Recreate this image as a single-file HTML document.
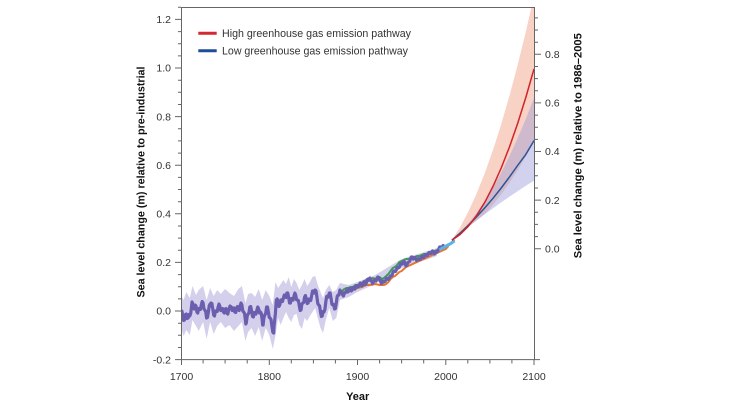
<!DOCTYPE html>
<html><head><meta charset="utf-8"><style>
html,body{margin:0;padding:0;background:#fff;}
svg{display:block;}
text{font-family:"Liberation Sans",sans-serif;}
</style></head><body>
<svg width="744" height="414" viewBox="0 0 744 414" xmlns="http://www.w3.org/2000/svg">
<rect x="0" y="0" width="744" height="414" fill="#fff"/>
<defs><clipPath id="pc"><rect x="181" y="7" width="353" height="353"/></clipPath></defs>

<g clip-path="url(#pc)">
<!-- historical uncertainty band -->
<polygon fill="#d4d0ec" points="181.0,295 183.6,300 186.3,292 189.8,298 192.5,286 196.0,295 198.7,290 203.1,286 206.6,300 210.1,288 213.7,296 217.2,290 220.7,294 225.1,289 229.5,293 234.0,296 238.4,289 241.9,286 245.4,303 248.1,294 251.6,293 255.1,297 258.7,289 262.2,300 265.7,290 269.3,296 272.8,305 275.4,282 278.1,288 280.7,284 283.4,280 286.0,284 288.7,277 291.3,287 294.0,279 296.6,283 299.3,290 301.9,285 304.6,279 307.2,286 309.9,282 312.5,277 315.2,276 317.8,285 320.5,292 323.1,298 325.8,290 329.3,285 332.8,292 336.3,290 339.9,283 348.7,285 357.5,282 375.2,275 401.6,259 437.0,248 437.0,256 401.6,268 375.2,284 357.5,292 348.7,297 339.9,300 336.3,318 332.8,321 329.3,308 325.8,320 323.1,333 320.5,328 317.8,318 315.2,308 312.5,312 309.9,316 307.2,321 304.6,318 301.9,329 299.3,325 296.6,314 294.0,315 291.3,322 288.7,318 286.0,312 283.4,318 280.7,325 278.1,318 275.4,336 272.8,349 269.3,335 265.7,328 262.2,341 258.7,327 255.1,336 251.6,328 248.1,332 245.4,341 241.9,322 238.4,326 234.0,331 229.5,325 225.1,328 220.7,322 217.2,326 213.7,334 210.1,322 206.6,339 203.1,322 198.7,331 196.0,326 192.5,320 189.8,335 186.3,330 183.6,336 181.0,328"/>

<!-- projection bands -->
<polygon fill="#f8d2c4" points="451.9,240.2 460.1,227.2 468.3,211.8 476.5,193.7 484.8,173.1 493.0,150.0 501.2,124.3 509.4,96.0 517.6,65.2 525.8,31.9 534.0,-4.0 534.0,141.8 525.8,156.6 517.6,170.2 509.4,182.8 501.2,194.3 493.0,204.7 484.8,214.0 476.5,220.5 468.3,226.9 460.1,233.5"/>
<polygon fill="rgba(155,155,217,0.45)" points="451.9,240.2 460.1,232.6 468.3,223.6 476.5,213.1 484.8,201.1 493.0,187.6 501.2,172.7 509.4,156.2 517.6,138.3 525.8,118.9 534.0,98.0 534.0,180.7 525.8,185.8 517.6,191.2 509.4,196.7 501.2,202.4 493.0,208.3 484.8,214.3 476.5,220.5 468.3,226.9 460.1,233.5"/>

<!-- green -->
<polyline fill="none" stroke="#3f9a5a" stroke-width="2" stroke-linejoin="round" points="339.9,290 342.1,291 344.3,289 346.5,288 348.7,288 350.9,287 353.1,287 355.3,285 357.5,285 359.7,284 361.9,283 364.1,281 366.3,280 368.5,281 370.8,279 373.0,278 375.2,279 377.4,277 379.6,277 381.8,279 384.0,278 386.2,276 388.4,274 390.6,271 392.8,268 395.0,267 397.2,265 399.4,262 401.6,261 403.8,260 406.0,259 408.3,259 410.5,258 412.7,257 414.9,257 417.1,256 419.3,256 421.5,255 423.7,254 425.9,254 428.1,253 430.3,252 432.5,252 434.7,251 437.0,250 439.6,250"/>
<!-- orange -->
<polyline fill="none" stroke="#e8742c" stroke-width="2" stroke-linejoin="round" points="339.9,292 344.3,292 348.7,291 353.1,290 357.5,288 361.9,287 366.3,285 370.8,285 375.2,284 379.6,285 384.0,285 386.2,284 388.4,282 390.6,279 392.8,277 395.0,276 397.2,274 399.4,272 401.6,271 403.8,269 406.0,267 408.3,266 410.5,265 412.7,264 414.9,263 417.1,262 419.3,261 421.5,260 423.7,259 425.9,258 428.1,257 430.3,256 432.5,255 434.7,254 437.0,253 439.2,252 441.4,251 443.6,250 445.8,249 447.6,247 449.3,244 452.0,242 454.6,240"/>
<!-- purple reconstruction -->
<polyline fill="none" stroke="#6a5fae" stroke-width="3.2" stroke-linejoin="round" points="181.0,311 181.9,311 182.8,316 183.65,320.5 184.5,320 185.4,314.5 186.3,314 187.2,318.5 188.1,318 189.0,314.5 189.8,316 190.7,313.5 191.6,306 192.05,302 192.5,303 193.35,308.5 194.2,309 195.1,305 196.0,306 196.9,312 197.8,313 198.65,308.5 199.5,309 200.4,309.5 201.3,305 202.2,301.5 203.1,303 203.95,309 204.8,310 205.7,311.5 206.6,318 207.5,317.5 208.4,312 209.25,305.5 210.1,304 210.55,306 211.0,303 211.9,303.5 212.8,309 213.65,315 214.5,316 215.4,311 216.3,311 217.2,311.5 218.1,307 218.95,304 219.8,306 220.7,310.5 221.6,310 222.5,308.5 223.4,312 224.25,313 225.1,309 226.0,308.5 226.9,313 227.8,314 228.7,310 230.0,306 231.3,307 232.2,310.5 233.1,309 233.95,308 234.8,312 235.7,312.5 236.6,308 237.5,306.5 238.4,310 239.25,310.5 240.1,306 241.0,303 241.9,305 242.8,311 243.7,312 244.55,313.5 245.4,320 245.85,324 246.3,323 247.2,316 248.1,314 248.95,313 249.8,307 250.7,306.5 251.6,311 252.5,316.5 253.4,317 254.25,312.5 255.1,313 256.0,314 256.9,310 257.8,307 258.7,309 259.55,313 260.4,312 261.3,313.5 262.2,320 262.65,325 263.1,325 263.95,317.5 264.8,315 265.7,313.5 266.6,307 267.5,307 268.4,312 269.25,317.5 270.1,318 271.0,319.5 271.9,326 272.8,332 273.7,333 274.1,325 274.5,322 275.4,313.5 276.3,300 277.2,299 278.1,303 278.95,306.5 279.8,305 280.7,300 281.6,300 282.5,301.5 283.4,298 284.25,295 285.1,297 286.0,297.5 286.9,293 287.8,293 288.7,298 289.55,303 290.4,303 291.3,298.5 292.2,299 293.1,300 294.0,296 294.85,293 295.7,295 296.6,300 297.5,300 298.4,300.5 299.3,306 300.15,310.5 301.0,310 301.9,304 302.8,303 303.7,302.5 304.6,297 305.45,295.5 306.3,299 307.2,303.5 308.1,303 309.0,299 309.9,300 310.75,300.5 311.6,296 312.5,291 313.4,291 314.3,293 315.2,290 316.05,291 316.9,297 317.8,303.5 318.7,305 319.6,306 320.5,312 321.35,316.5 322.2,316 323.1,311.5 324.0,312 324.9,309.5 325.8,302 326.65,296.5 327.5,296 328.4,297 329.3,293 330.15,293 331.0,298 331.9,304 332.8,305 333.7,304.5 334.6,309 335.45,308.5 336.3,303 337.2,296.5 338.1,295 339.0,295 339.9,290 340.8,292.5 341.6,292 342.5,294.5 343.4,296 344.3,293 345.2,293 346.0,291.5 346.9,290 347.8,292 348.7,291 349.6,288 350.4,289 351.3,291 352.2,290 353.1,287.5 354.0,288 354.9,289 355.7,287 356.6,285.5 357.5,287 358.4,286.5 359.3,285 360.2,283 361.0,284 361.9,286 362.8,285 363.7,282 364.6,282 365.5,284.5 366.3,283 367.2,279.5 368.1,279 369.0,280 369.9,278 370.8,280.5 371.6,281 372.5,283.5 373.4,282 374.3,280 375.2,280 376.0,281 376.9,279 377.8,277 378.7,278 379.6,280 380.5,281 381.3,283.5 382.2,283 383.1,281 384.0,282 384.9,281.5 385.8,280 386.6,278 387.5,279 388.4,279.5 389.3,278 390.2,276 391.1,276 392.0,275.5 392.8,273 393.7,271 394.6,271 395.5,271.5 396.3,270 397.2,267.5 398.1,268 399.0,267.5 399.9,266 400.8,263.5 401.6,264 402.5,264 403.4,262 404.3,261.5 405.2,264 406.0,266 406.9,265 407.8,262.5 408.7,262 409.6,261.5 410.5,259 411.3,257 412.2,257 413.1,259 414.0,258 414.9,257.5 415.8,259 416.6,260.5 417.5,260 418.4,258.5 419.3,259 420.2,259.5 421.1,258 422.0,256.5 422.8,257 423.7,257.5 424.6,256 425.5,254.5 426.4,255 427.2,255.5 428.1,254 429.0,252.5 429.9,253 430.8,253.5 431.7,252 432.5,251 433.4,252 434.3,254 435.2,253 436.1,251.5 437.0,252 437.8,251 438.7,249 439.6,247 440.5,247 441.4,248 442.3,247 443.1,245.5 444.0,246"/>
<!-- cyan satellite -->
<polyline fill="none" stroke="#5ab4e5" stroke-width="3" stroke-linejoin="round" points="439.6,250 442.3,248 444.9,247 447.6,245 450.2,244 452.8,242 454.6,241"/>

<!-- projection medians -->
<polyline fill="none" stroke="#2a5598" stroke-width="1.5" stroke-linejoin="round" points="451.9,240.2 460.1,233.1 468.3,225.3 476.5,216.9 484.8,207.9 493.0,198.3 501.2,188.0 509.4,177.1 517.6,165.5 525.8,154.4 534.0,140.6"/>
<polyline fill="none" stroke="#d2232a" stroke-width="1.5" stroke-linejoin="round" points="451.9,240.2 460.1,234.5 468.3,226.3 476.5,215.6 484.8,202.3 493.0,186.4 501.2,168.0 509.4,147.1 517.6,123.6 525.8,97.5 534.0,68.9"/>
</g>

<!-- axes -->
<g stroke="#666" stroke-width="1" fill="none">
<path d="M181.5,7.5 V360 M181,7.5 H534.5 M534.5,7 V360 M181,359.6 H540"/>
<path d="M175,359.6H181 M178,347.5H181 M178,335.3H181 M178,323.2H181 M175,311H181 M178,298.9H181 M178,286.7H181 M178,274.6H181 M175,262.4H181 M178,250.3H181 M178,238.1H181 M178,226H181 M175,213.8H181 M178,201.7H181 M178,189.5H181 M178,177.4H181 M175,165.2H181 M178,153.1H181 M178,140.9H181 M178,128.8H181 M175,116.6H181 M178,104.5H181 M178,92.3H181 M178,80.2H181 M175,68H181 M178,55.9H181 M178,43.7H181 M178,31.6H181 M175,19.4H181 M178,7.3H181"/>
<path d="M534,248.7H541 M534,236.6H538 M534,224.4H538 M534,212.3H538 M534,200.1H541 M534,188H538 M534,175.8H538 M534,163.7H538 M534,151.5H541 M534,139.4H538 M534,127.2H538 M534,115.1H538 M534,102.9H541 M534,90.8H538 M534,78.6H538 M534,66.5H538 M534,54.3H541 M534,42.2H538 M534,30H538 M534,17.9H538"/>
<path d="M181.5,360V365 M203.1,360V363.5 M225.1,360V363.5 M247.2,360V363.5 M269.3,360V365 M291.3,360V363.5 M313.4,360V363.5 M335.4,360V363.5 M357.5,360V365 M379.6,360V363.5 M401.6,360V363.5 M423.7,360V363.5 M445.8,360V365 M467.8,360V363.5 M489.9,360V363.5 M511.9,360V363.5 M534,360V365"/>
</g>

<g font-size="10.5" fill="#333" text-anchor="end">
<text x="171" y="23.1">1.2</text>
<text x="171" y="71.7">1.0</text>
<text x="171" y="120.3">0.8</text>
<text x="171" y="168.9">0.6</text>
<text x="171" y="217.5">0.4</text>
<text x="171" y="266.1">0.2</text>
<text x="171" y="314.7">0.0</text>
<text x="171" y="363.3">-0.2</text>
</g>
<g font-size="10.5" fill="#333">
<text x="545" y="58">0.8</text>
<text x="545" y="106.6">0.6</text>
<text x="545" y="155.2">0.4</text>
<text x="545" y="203.8">0.2</text>
<text x="545" y="252.4">0.0</text>
</g>
<g font-size="10.5" fill="#333" text-anchor="middle">
<text x="181.5" y="380">1700</text>
<text x="269.3" y="380">1800</text>
<text x="357.5" y="380">1900</text>
<text x="445.8" y="380">2000</text>
<text x="534" y="380">2100</text>
</g>

<text x="357.7" y="400" font-size="11" font-weight="bold" fill="#111" text-anchor="middle">Year</text>
<text transform="translate(144.5,182) rotate(-90)" font-size="10.7" font-weight="bold" fill="#111" text-anchor="middle" textLength="231" lengthAdjust="spacingAndGlyphs">Sea level change (m) relative to pre-industrial</text>
<text transform="translate(581.5,145.7) rotate(-90)" font-size="11" font-weight="bold" fill="#111" text-anchor="middle" textLength="225" lengthAdjust="spacingAndGlyphs">Sea level change (m) relative to 1986–2005</text>

<line x1="198.3" y1="33.3" x2="216.7" y2="33.3" stroke="#d62730" stroke-width="3"/>
<line x1="198.3" y1="50.7" x2="216.7" y2="50.7" stroke="#1f4e96" stroke-width="3"/>
<text x="222" y="37.2" font-size="10.7" fill="#333" textLength="189" lengthAdjust="spacingAndGlyphs">High greenhouse gas emission pathway</text>
<text x="222" y="54.6" font-size="10.7" fill="#333" textLength="186" lengthAdjust="spacingAndGlyphs">Low greenhouse gas emission pathway</text>
</svg>
</body></html>
